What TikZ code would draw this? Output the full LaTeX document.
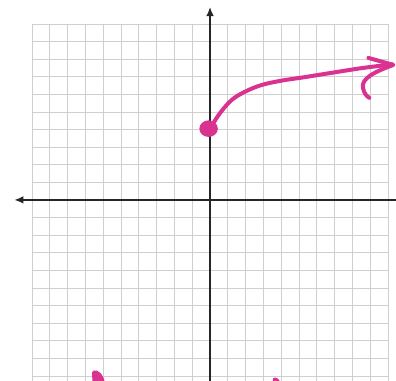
\documentclass[tikz,border=0pt]{standalone}
\usepackage{xcolor}
\usepackage{tikz}
\usetikzlibrary{arrows.meta}
\definecolor{rosa}{RGB}{218,50,145}

\begin{document}
\begin{tikzpicture}[
    x=5mm, y=4.944mm,
    rejilla/.style={draw=gray!38, line width=0.6pt},
    eje/.style={draw=black!85, line width=2.2pt},
    flecha/.style={-{Latex[length=2.6mm, width=2.2mm]}},
    trazo/.style={draw=rosa, line width=3.2pt, line cap=round, line join=round}
  ]
  \useasboundingbox (-11.80,-10.28) rectangle (10.45,11.36);
  \clip (-11.80,-10.28) rectangle (10.45,11.36);

  % --- Rejilla ---
  \foreach \i in {-10,...,10} {
    \draw[rejilla] (\i,-10.4) -- (\i,10);
    \draw[rejilla] (-10,\i) -- (10,\i);
  }

  % --- Ejes ---
  \draw[eje, flecha] (10.6,0) -- (-11.0,0);
  \draw[eje, flecha] (0,-10.4) -- (0,10.97);

  % --- Curva con punto inicial ---
  \coordinate (inicio) at (-0.08,4.05);
  \fill[rosa] (inicio) ellipse [x radius=0.52, y radius=0.47];
  \draw[trazo] plot[smooth, tension=0.6] coordinates {(0,4.05) (0.56,4.93)
    (1.22,5.68) (1.97,6.15) (2.9,6.53) (4.03,6.78) (5.15,6.95) (6.7,7.2)
    (8.6,7.5) (10.25,7.7)};

  % flecha dibujada a mano
  \draw[trazo] (8.9,8.07) -- (10.3,7.67)
    .. controls (9.3,7.3) and (8.45,6.9) .. (8.6,6.35)
    .. controls (8.65,6.05) and (8.8,5.9) .. (8.95,5.8);

  % --- Restos de otra grafica (borde inferior) ---
  \fill[rosa] (-6.55,-9.7) .. controls (-6.3,-9.6) and (-6.0,-9.9) .. (-5.9,-10.4)
    -- (-6.6,-10.4) .. controls (-6.6,-10.0) and (-6.7,-9.8) .. cycle;
  \fill[rosa] (3.55,-10.12) .. controls (3.7,-10.05) and (3.9,-10.15) .. (3.95,-10.4)
    -- (3.5,-10.4) -- cycle;
\end{tikzpicture}
\end{document}
